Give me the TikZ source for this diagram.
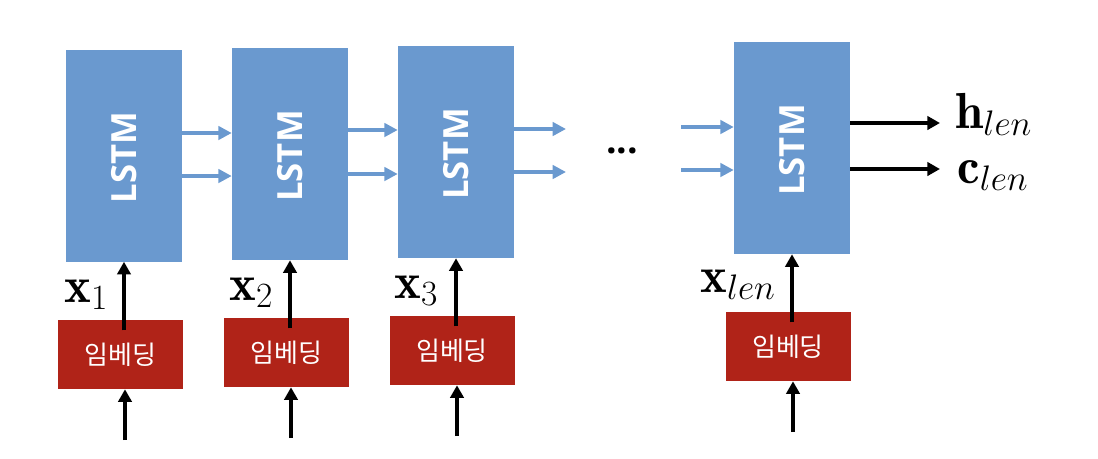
\RequirePackage{fix-cm}
\documentclass[tikz,border=0pt]{standalone}
\usepackage{fontspec}
\setsansfont{Open Sans}
\newfontfamily\kofont{Noto Sans CJK KR}
\usetikzlibrary{arrows.meta}
\definecolor{lstmblue}{RGB}{106,153,207}
\definecolor{embred}{RGB}{176,35,24}
\begin{document}
\begin{tikzpicture}[x=0.75pt,y=-0.75pt,
  lstmbox/.style={fill=lstmblue,draw=none,minimum width=87pt,minimum height=159pt,inner sep=0pt},
  lstmtext/.style={rotate=90,text=white,font=\sffamily\bfseries\fontsize{26}{30}\selectfont,inner sep=0pt},
  embbox/.style={fill=embred,draw=none,minimum width=93.75pt,minimum height=51.75pt,inner sep=0pt,
    text=white,font=\kofont\fontsize{19.5}{22}\selectfont},
  bluearrow/.style={draw=lstmblue,line width=3.2pt,-{Triangle[length=10pt,width=10pt]}},
  blackarrow/.style={draw=black,line width=3.6pt,-{Triangle[length=9.5pt,width=10pt]}},
  mathlabel/.style={inner sep=0pt,anchor=base west,font=\fontsize{38}{44}\selectfont}]
\useasboundingbox (0,0) rectangle (1098,458);
% LSTM boxes
\node[lstmbox] (L1) at (124,155.5) {};
\node[lstmbox] (L2) at (290,154) {};
\node[lstmbox] (L3) at (456,152) {};
\node[lstmbox] (L4) at (792,148) {};
\foreach \i in {1,2,3,4} {\node[lstmtext] (T\i) at ([yshift=-1.5pt]L\i.center) {LSTM};}
% embedding boxes
\node[embbox] (E1) at (120.5,354.5) {임베딩};
\node[embbox] (E2) at (286.5,352.5) {임베딩};
\node[embbox] (E3) at (452,350.5) {임베딩};
\node[embbox] (E4) at (788,346.5) {임베딩};
% inputs from below
\coordinate (I1) at (125,440);
\coordinate (I2) at (291,438);
\coordinate (I3) at (457,436);
\coordinate (I4) at (793,432);
\foreach \i in {1,2,3,4} {
  \draw[blackarrow] (I\i) -- (I\i |- E\i.south);
  \coordinate (S\i) at ([yshift=-8pt]E\i.north -| L\i.south);
  \draw[blackarrow] (S\i) -- (L\i.south);
}
% recurrent arrows
\coordinate (A1) at (0,133);
\coordinate (A2) at (0,176);
\coordinate (B1) at (0,130);
\coordinate (B2) at (0,174);
\draw[bluearrow] (L1.east |- A1) -- (L2.west |- A1);
\draw[bluearrow] (L1.east |- A2) -- (L2.west |- A2);
\draw[bluearrow] (L2.east |- B1) -- (L3.west |- B1);
\draw[bluearrow] (L2.east |- B2) -- (L3.west |- B2);
\coordinate (R1) at (566,129);
\coordinate (R2) at (566,172);
\draw[bluearrow] (L3.east |- R1) -- (R1);
\draw[bluearrow] (L3.east |- R2) -- (R2);
\coordinate (Q1) at (681,127);
\coordinate (Q2) at (681,170);
\draw[bluearrow] (Q1) -- (Q1 -| L4.west);
\draw[bluearrow] (Q2) -- (Q2 -| L4.west);
\node[font=\sffamily\bfseries\fontsize{28}{32}\selectfont,inner sep=0pt] (dots) at (622,151) {...};
% outputs
\coordinate (H) at (940,123);
\coordinate (C) at (940,169);
\draw[blackarrow] (H -| L4.east) -- (H);
\draw[blackarrow] (C -| L4.east) -- (C);
\node[mathlabel] (hl) at (955,128) {$\mathbf{h}_{len}$};
\node[mathlabel] (cl) at (957,183) {$\mathbf{c}_{len}$};
% input labels
\node[mathlabel] (x1) at (64,302) {$\mathbf{x}_{1}$};
\node[mathlabel] (x2) at (229,300) {$\mathbf{x}_{2}$};
\node[mathlabel] (x3) at (394,298) {$\mathbf{x}_{3}$};
\node[mathlabel] (xl) at (700,292) {$\mathbf{x}_{len}$};
\end{tikzpicture}
\end{document}
